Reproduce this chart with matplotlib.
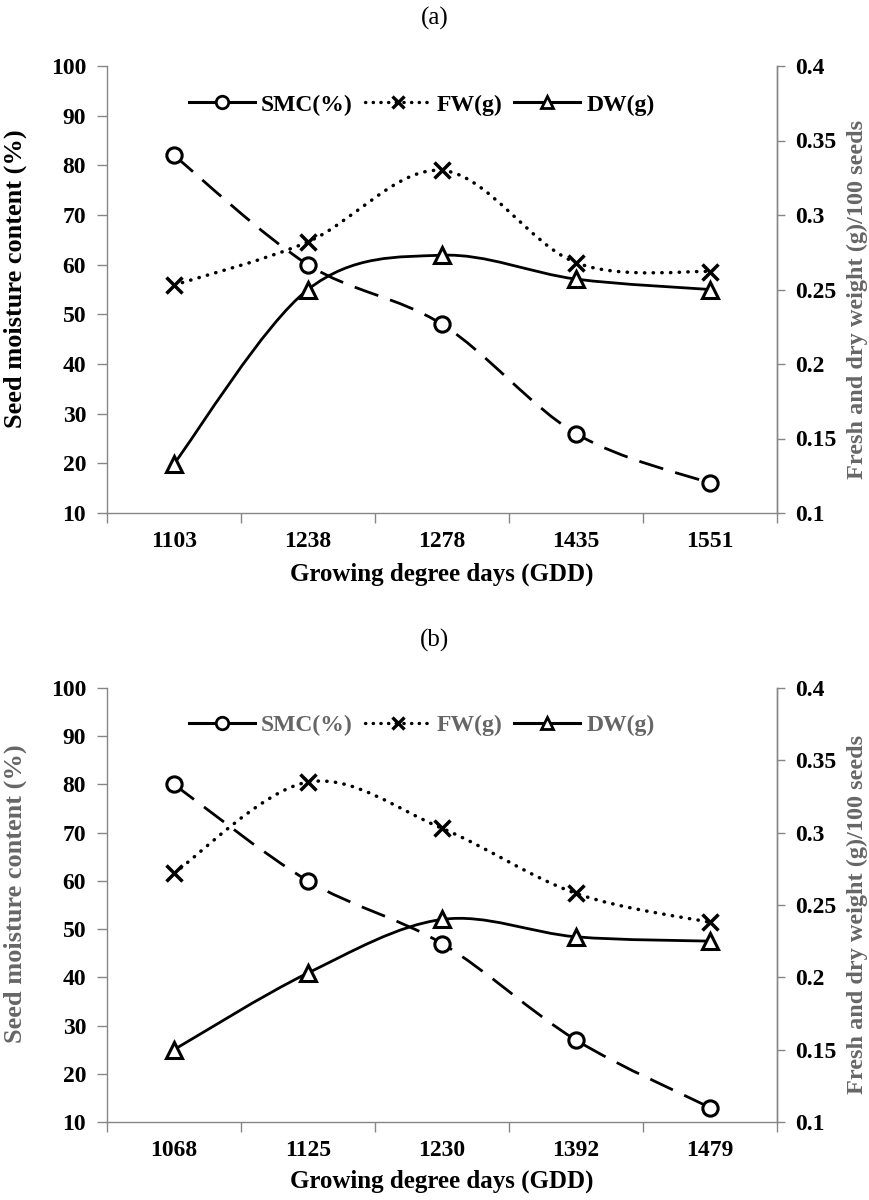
import numpy as np
import matplotlib.pyplot as plt
from matplotlib.path import Path
from matplotlib.patches import PathPatch
from matplotlib.lines import Line2D
from matplotlib.ticker import FormatStrFormatter

plt.rcParams["font.family"] = ["Liberation Serif", "DejaVu Serif"]
plt.rcParams["font.weight"] = "bold"
plt.rcParams["axes.labelweight"] = "bold"

# panel (a)
gdd_a = ["1103", "1238", "1278", "1435", "1551"]
smc_a = [82, 60, 48, 26, 16]
fw_a = [0.253, 0.282, 0.330, 0.268, 0.262]
dw_a = [0.133, 0.250, 0.273, 0.257, 0.250]

# panel (b)
gdd_b = ["1068", "1125", "1230", "1392", "1479"]
smc_b = [80, 60, 47, 27, 13]
fw_b = [0.272, 0.335, 0.303, 0.258, 0.238]
dw_b = [0.150, 0.203, 0.240, 0.228, 0.225]

GRAY = "#666666"
SPINE = "#868686"


def smooth_path(x, y):
    # Excel-like smoothed line: cubic bezier through the points
    p = np.column_stack([x, y]).astype(float)
    n = len(p)
    verts = [p[0]]
    codes = [Path.MOVETO]
    for i in range(n - 1):
        p0 = p[i - 1] if i > 0 else p[i]
        p3 = p[i + 2] if i + 2 < n else p[i + 1]
        c1 = p[i] + (p[i + 1] - p0) / 6.0
        c2 = p[i + 1] - (p3 - p[i]) / 6.0
        verts += [c1, c2, p[i + 1]]
        codes += [Path.CURVE4] * 3
    return Path(verts, codes)


def panel(ax, cats, smc, fw, dw, left_color, legend_color):
    x = np.arange(len(cats))
    ax2 = ax.twinx()

    ax.add_patch(PathPatch(smooth_path(x, smc), fill=False, lw=2.0,
                           ec="black", linestyle=(0, (9, 4.5)), zorder=2))
    ax.plot(x, smc, linestyle="none", marker="o", ms=11, mfc="white",
            mec="black", mew=2.2, zorder=3)

    ax2.add_patch(PathPatch(smooth_path(x, fw), fill=False, lw=2.5,
                            ec="black", linestyle=(0, (0.1, 2.4)),
                            capstyle="round", zorder=2))
    ax2.plot(x, fw, linestyle="none", marker="x", ms=12, mec="black",
             mew=2.5, zorder=3)

    ax2.add_patch(PathPatch(smooth_path(x, dw), fill=False, lw=2.0,
                            ec="black", zorder=2))
    ax2.plot(x, dw, linestyle="none", marker="^", ms=12, mfc="white",
             mec="black", mew=2.2, zorder=3)

    ax.set_xlim(-0.5, len(cats) - 0.5)
    ax.set_ylim(10, 100)
    ax.set_yticks(np.arange(10, 101, 10))
    ax2.set_ylim(0.1, 0.4)
    ax2.set_yticks(np.arange(0.1, 0.401, 0.05))
    ax2.yaxis.set_major_formatter(FormatStrFormatter("%g"))

    ax.set_xticks(x)
    ax.set_xticklabels(cats)
    ax.set_xticks(np.arange(-0.5, len(cats), 1.0), minor=True)
    ax.tick_params(axis="x", which="major", length=0, pad=13, labelsize=17)
    ax.tick_params(axis="x", which="minor", length=7, width=1, color=SPINE,
                   direction="out")
    ax.tick_params(axis="y", length=7, width=1, color=SPINE, pad=8,
                   labelsize=17)
    ax2.tick_params(axis="y", length=6, width=1, color=SPINE, pad=7,
                    labelsize=17)

    for a in (ax, ax2):
        a.spines["top"].set_visible(False)
        for s in a.spines.values():
            s.set_color(SPINE)
            s.set_linewidth(1)
    ax2.spines["left"].set_visible(False)
    ax2.spines["bottom"].set_visible(False)

    ax.set_xlabel("Growing degree days (GDD)", fontsize=18, fontweight="bold")
    ax.xaxis.set_label_coords(0.5, -0.11)
    ax.set_ylabel("Seed moisture content (%)", fontsize=19, color=left_color,
                  fontweight="bold")
    ax.yaxis.set_label_coords(-0.12, 0.525)
    ax2.set_ylabel("Fresh and dry weight (g)/100 seeds", fontsize=17.5,
                   color=GRAY, rotation=90, fontweight="bold")
    ax2.yaxis.set_label_coords(1.104, 0.478)

    handles = [
        Line2D([], [], color="black", lw=2.2, marker="o", ms=9, mfc="white",
               mec="black", mew=2),
        Line2D([], [], color="black", lw=2.4, linestyle=(0, (0.1, 2.2)),
               dash_capstyle="round", marker="x", ms=9, mew=2.4),
        Line2D([], [], color="black", lw=2.2, marker="^", ms=9, mfc="white",
               mec="black", mew=2),
    ]
    leg = ax2.legend(handles, ["SMC(%)", "FW(g)", "DW(g)"], loc="center",
                     bbox_to_anchor=(0.47, 0.913), ncol=3, frameon=False,
                     prop={"size": 17, "weight": "bold"}, handlelength=2.8,
                     handletextpad=0.25, columnspacing=0.5)
    for t in leg.get_texts():
        t.set_color(legend_color)


fig = plt.figure(figsize=(8.7, 12), dpi=100)
ax_a = fig.add_axes([0.123, 0.5725, 0.77, 0.3725])
ax_b = fig.add_axes([0.123, 0.065, 0.77, 0.3617])

panel(ax_a, gdd_a, smc_a, fw_a, dw_a, "black", "black")
panel(ax_b, gdd_b, smc_b, fw_b, dw_b, GRAY, GRAY)

fig.text(0.5, 1 - 18 / 1200, "(a)", ha="center", va="center", fontsize=18,
         fontweight="normal")
fig.text(0.5, 1 - 640 / 1200, "(b)", ha="center", va="center", fontsize=18,
         fontweight="normal")

fig.savefig("out.png", dpi=100)
